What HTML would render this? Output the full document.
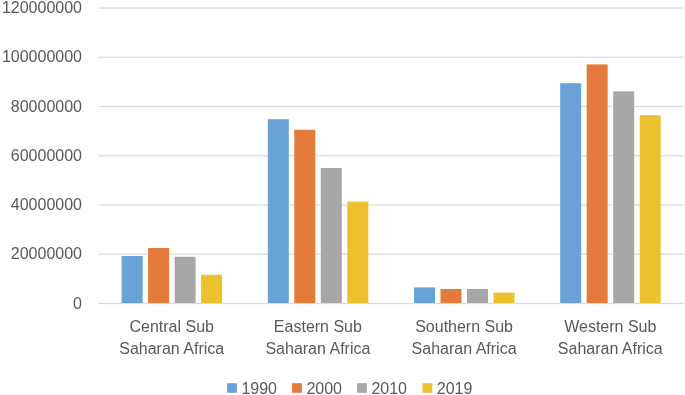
<!DOCTYPE html>
<html><head><meta charset="utf-8"><style>
html,body{margin:0;padding:0;background:#fff;}
svg{display:block;will-change:transform;}
text{font-family:"Liberation Sans",sans-serif;font-size:16px;fill:#595959;}
.t{filter:blur(0.25px);}
</style></head><body>
<svg width="685" height="395" viewBox="0 0 685 395">
<rect width="685" height="395" fill="#fff"/>
<rect x="98.6" y="302.85" width="585.4" height="1.3" fill="#DADCDB"/>
<rect x="98.6" y="253.61" width="585.4" height="1.3" fill="#DADCDB"/>
<rect x="98.6" y="204.36" width="585.4" height="1.3" fill="#DADCDB"/>
<rect x="98.6" y="155.12" width="585.4" height="1.3" fill="#DADCDB"/>
<rect x="98.6" y="105.87" width="585.4" height="1.3" fill="#DADCDB"/>
<rect x="98.6" y="56.63" width="585.4" height="1.3" fill="#DADCDB"/>
<rect x="98.6" y="7.38" width="585.4" height="1.3" fill="#DADCDB"/>
<rect x="121.60" y="256.00" width="21" height="47.00" fill="#68A2D6"/>
<rect x="148.10" y="248.00" width="21" height="55.00" fill="#E57B3A"/>
<rect x="174.60" y="256.80" width="21" height="46.20" fill="#A7A7A7"/>
<rect x="201.10" y="274.80" width="21" height="28.20" fill="#EBC130"/>
<rect x="267.80" y="119.20" width="21" height="183.80" fill="#68A2D6"/>
<rect x="294.30" y="129.80" width="21" height="173.20" fill="#E57B3A"/>
<rect x="320.80" y="168.00" width="21" height="135.00" fill="#A7A7A7"/>
<rect x="347.30" y="201.60" width="21" height="101.40" fill="#EBC130"/>
<rect x="414.00" y="287.40" width="21" height="15.60" fill="#68A2D6"/>
<rect x="440.50" y="289.00" width="21" height="14.00" fill="#E57B3A"/>
<rect x="467.00" y="289.00" width="21" height="14.00" fill="#A7A7A7"/>
<rect x="493.50" y="292.60" width="21" height="10.40" fill="#EBC130"/>
<rect x="560.20" y="83.20" width="21" height="219.80" fill="#68A2D6"/>
<rect x="586.70" y="64.40" width="21" height="238.60" fill="#E57B3A"/>
<rect x="613.20" y="91.40" width="21" height="211.60" fill="#A7A7A7"/>
<rect x="639.70" y="115.20" width="21" height="187.80" fill="#EBC130"/>
<rect x="227.10" y="383.2" width="9.8" height="9.6" fill="#68A2D6"/>
<rect x="292.10" y="383.2" width="9.8" height="9.6" fill="#E57B3A"/>
<rect x="357.10" y="383.2" width="9.8" height="9.6" fill="#A7A7A7"/>
<rect x="422.50" y="383.2" width="9.8" height="9.6" fill="#EBC130"/>
<g class="t">
<text x="82" y="308.55" text-anchor="end">0</text>
<text x="82" y="259.31" text-anchor="end">20000000</text>
<text x="82" y="210.06" text-anchor="end">40000000</text>
<text x="82" y="160.82" text-anchor="end">60000000</text>
<text x="82" y="111.57" text-anchor="end">80000000</text>
<text x="82" y="62.33" text-anchor="end">100000000</text>
<text x="82" y="13.08" text-anchor="end">120000000</text>
<text x="171.70" y="331.6" text-anchor="middle">Central Sub</text>
<text x="171.70" y="353.6" text-anchor="middle">Saharan Africa</text>
<text x="317.90" y="331.6" text-anchor="middle">Eastern Sub</text>
<text x="317.90" y="353.6" text-anchor="middle">Saharan Africa</text>
<text x="464.10" y="331.6" text-anchor="middle">Southern Sub</text>
<text x="464.10" y="353.6" text-anchor="middle">Saharan Africa</text>
<text x="610.30" y="331.6" text-anchor="middle">Western Sub</text>
<text x="610.30" y="353.6" text-anchor="middle">Saharan Africa</text>
<text x="241.40" y="393.7">1990</text>
<text x="306.40" y="393.7">2000</text>
<text x="371.40" y="393.7">2010</text>
<text x="436.80" y="393.7">2019</text>
</g>
</svg>
</body></html>
